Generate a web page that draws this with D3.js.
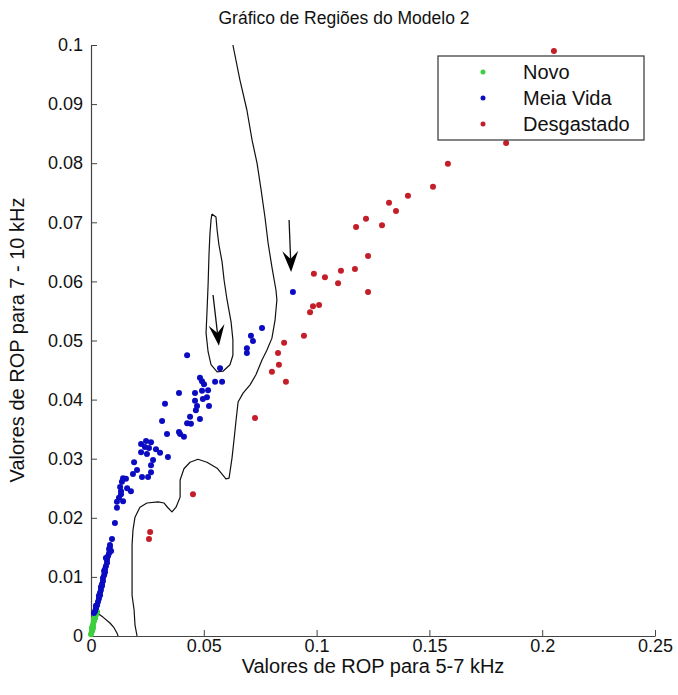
<!DOCTYPE html>
<html>
<head>
<meta charset="utf-8">
<script src="https://cdn.jsdelivr.net/npm/d3@7"></script>
<style>
  body { margin: 0; background: #fff; }
  svg { display: block; font-family: "Liberation Sans", Arial, sans-serif; }
</style>
</head>
<body>
<svg id="chart" width="678" height="695"></svg>
<script>
// Axis ticks
const xTicks = [0, 0.05, 0.1, 0.15, 0.2, 0.25];
const xTickLabels = ["0", "0.05", "0.1", "0.15", "0.2", "0.25"];
const yTicks = [0, 0.01, 0.02, 0.03, 0.04, 0.05, 0.06, 0.07, 0.08, 0.09, 0.1];
const yTickLabels = ["0", "0.01", "0.02", "0.03", "0.04", "0.05", "0.06", "0.07", "0.08", "0.09", "0.1"];

// Classes
const classNames = ["Novo", "Meia Vida", "Desgastado"];
const classColors = ["#3ecf3e", "#0b0bc2", "#c41e2a"];

// Novo (new tool)
const novoX = [0.0027, 0.0022, 0.0018, 0.0018, 0.0013, 0.0013, 0.0009, 0.0009, 0.0004, 0.0004, 0.0000, 0.0024, 0.0006];
const novoY = [0.0041, 0.0036, 0.0037, 0.0030, 0.0029, 0.0025, 0.0019, 0.0014, 0.0014, 0.0008, 0.0003, 0.0039, 0.0011];

// Meia Vida (half life)
const meiaX = [
  0.0895, 0.0758, 0.0709, 0.0718, 0.0691, 0.0691, 0.0426, 0.0572, 0.0550, 0.0581,
  0.0483, 0.0492, 0.0501, 0.0519, 0.0390, 0.0461, 0.0492, 0.0514, 0.0496, 0.0461,
  0.0470, 0.0523, 0.0465, 0.0328, 0.0439, 0.0483, 0.0315, 0.0426, 0.0443, 0.0390,
  0.0395, 0.0337, 0.0412, 0.0244, 0.0266, 0.0222, 0.0239, 0.0257, 0.0288, 0.0222,
  0.0248, 0.0306, 0.0341, 0.0275, 0.0191, 0.0266, 0.0204, 0.0186, 0.0266, 0.0142,
  0.0155, 0.0226, 0.0253, 0.0137, 0.0160, 0.0129, 0.0133, 0.0177, 0.0133, 0.0124,
  0.0142, 0.0115, 0.0115, 0.0106, 0.0093, 0.0084, 0.0080, 0.0089, 0.0084,
  0.0075, 0.0071, 0.0071, 0.0066, 0.0062, 0.0062, 0.0058, 0.0053, 0.0053, 0.0049,
  0.0044, 0.0044, 0.0040, 0.0035, 0.0035, 0.0031, 0.0027, 0.0022, 0.0018, 0.0013,
  0.0066, 0.0058, 0.0049, 0.0040, 0.0022, 0.0080
];
const meiaY = [
  0.0582, 0.0521, 0.0508, 0.0499, 0.0487, 0.0479, 0.0475, 0.0453, 0.0430, 0.0430,
  0.0437, 0.0431, 0.0426, 0.0416, 0.0411, 0.0411, 0.0415, 0.0404, 0.0401, 0.0398,
  0.0389, 0.0389, 0.0382, 0.0393, 0.0371, 0.0367, 0.0364, 0.0360, 0.0359, 0.0345,
  0.0342, 0.0342, 0.0337, 0.0330, 0.0328, 0.0325, 0.0320, 0.0318, 0.0316, 0.0311,
  0.0308, 0.0310, 0.0303, 0.0298, 0.0294, 0.0289, 0.0281, 0.0274, 0.0277, 0.0267,
  0.0266, 0.0269, 0.0269, 0.0261, 0.0250, 0.0252, 0.0245, 0.0245, 0.0240, 0.0234,
  0.0228, 0.0227, 0.0217, 0.0191, 0.0164, 0.0151, 0.0147, 0.0144, 0.0154,
  0.0135, 0.0129, 0.0124, 0.0118, 0.0113, 0.0108, 0.0103, 0.0098, 0.0093, 0.0088,
  0.0083, 0.0078, 0.0073, 0.0068, 0.0063, 0.0058, 0.0052, 0.0047, 0.0042, 0.0039,
  0.0132, 0.0110, 0.0085, 0.0069, 0.0051, 0.0140
];

// Desgastado (worn)
const desgX = [
  0.2052, 0.1840, 0.1582, 0.1516, 0.1405, 0.1321, 0.1352, 0.1219, 0.1175, 0.1290,
  0.1228, 0.1170, 0.1108, 0.1095, 0.1037, 0.0988, 0.1228, 0.1011, 0.0984, 0.0971,
  0.0944, 0.0856, 0.0829, 0.0833, 0.0802, 0.0864, 0.0727, 0.0452, 0.0262, 0.0257
];
const desgY = [
  0.0990, 0.0834, 0.0799, 0.0760, 0.0745, 0.0733, 0.0719, 0.0706, 0.0692, 0.0695,
  0.0643, 0.0621, 0.0618, 0.0597, 0.0607, 0.0613, 0.0582, 0.0560, 0.0558, 0.0548,
  0.0508, 0.0496, 0.0479, 0.0459, 0.0447, 0.0430, 0.0369, 0.0240, 0.0176, 0.0164
];

// Decision boundaries
const arcX = [0.0000, 0.0027, 0.0053, 0.0084, 0.0102, 0.0115, 0.0120];
const arcY = [0.0041, 0.0039, 0.0032, 0.0022, 0.0014, 0.0005, 0.0000];

const frontX = [
  0.0629, 0.0660, 0.0691, 0.0714, 0.0736, 0.0754, 0.0771, 0.0785, 0.0802, 0.0820,
  0.0824, 0.0816, 0.0802, 0.0780, 0.0758, 0.0731, 0.0705, 0.0674, 0.0652, 0.0643,
  0.0634, 0.0625, 0.0612, 0.0598, 0.0559, 0.0514, 0.0474, 0.0439, 0.0412, 0.0395,
  0.0395, 0.0377, 0.0359, 0.0341, 0.0324, 0.0297, 0.0248, 0.0217, 0.0195, 0.0186,
  0.0182, 0.0182, 0.0182, 0.0191, 0.0195, 0.0204
];
const frontY = [
  0.1000, 0.0941, 0.0890, 0.0839, 0.0800, 0.0755, 0.0709, 0.0665, 0.0624, 0.0585,
  0.0569, 0.0535, 0.0504, 0.0484, 0.0467, 0.0442, 0.0425, 0.0411, 0.0396, 0.0365,
  0.0332, 0.0301, 0.0267, 0.0266, 0.0284, 0.0294, 0.0299, 0.0294, 0.0283, 0.0264,
  0.0235, 0.0218, 0.0210, 0.0217, 0.0225, 0.0227, 0.0225, 0.0218, 0.0201, 0.0179,
  0.0154, 0.0103, 0.0069, 0.0044, 0.0019, 0.0000
];

const loopX = [
  0.0536, 0.0554, 0.0559, 0.0567, 0.0581, 0.0590, 0.0603, 0.0621, 0.0629, 0.0629,
  0.0616, 0.0585, 0.0559, 0.0532, 0.0519, 0.0510, 0.0514, 0.0519, 0.0523, 0.0527,
  0.0532, 0.0536
];
const loopY = [
  0.0714, 0.0709, 0.0687, 0.0662, 0.0633, 0.0602, 0.0569, 0.0531, 0.0501, 0.0475,
  0.0459, 0.0448, 0.0447, 0.0459, 0.0481, 0.0513, 0.0547, 0.0594, 0.0645, 0.0679,
  0.0704, 0.0714
];

// Annotation arrows: [x start, y start, x tip, y tip]
const arrowA = [0.0541, 0.0577, 0.0567, 0.0491];
const arrowB = [0.0878, 0.0704, 0.0887, 0.0616];

const svg = d3.select("#chart");
svg.append("rect").attr("width", 678).attr("height", 695).attr("fill", "#fff");

const x = d3.scaleLinear().domain([0, 0.25]).range([91, 655]);
const y = d3.scaleLinear().domain([0, 0.1]).range([636, 45]);

// Axes
const xAxis = d3.axisBottom(x).tickValues(xTicks)
  .tickFormat((d, i) => xTickLabels[i]).tickSizeInner(-6).tickSizeOuter(0).tickPadding(3);
const yAxis = d3.axisLeft(y).tickValues(yTicks)
  .tickFormat((d, i) => yTickLabels[i]).tickSizeInner(-6).tickSizeOuter(0).tickPadding(8);

const gx = svg.append("g").attr("transform", "translate(0,636)").call(xAxis);
const gy = svg.append("g").attr("transform", "translate(91,0)").call(yAxis);
[gx, gy].forEach(g => {
  g.select(".domain").attr("stroke", "#444").attr("stroke-width", 1.2);
  g.selectAll(".tick line").attr("stroke", "#444");
  g.selectAll(".tick text").attr("fill", "#111").attr("font-size", 18)
    .attr("font-family", "'Liberation Sans', Arial, sans-serif");
});
gx.selectAll(".tick text").attr("dy", "0.71em");

// Boundary curves
const line = d3.line().x(d => x(d[0])).y(d => y(d[1]));
const zipXY = (xs, ys) => xs.map((v, i) => [v, ys[i]]);
[zipXY(arcX, arcY), zipXY(frontX, frontY), zipXY(loopX, loopY)].forEach(pts => {
  svg.append("path").attr("d", line(pts)).attr("fill", "none")
    .attr("stroke", "#111").attr("stroke-width", 1.2).attr("stroke-linejoin", "round");
});

// Scatter points
const series = [
  { xs: novoX, ys: novoY, color: classColors[0] },
  { xs: meiaX, ys: meiaY, color: classColors[1] },
  { xs: desgX, ys: desgY, color: classColors[2] }
];
series.forEach(s => {
  svg.append("g").selectAll("circle").data(zipXY(s.xs, s.ys)).join("circle")
    .attr("cx", d => x(d[0])).attr("cy", d => y(d[1])).attr("r", 3)
    .attr("fill", s.color);
});

// Arrows
function drawArrow(a) {
  const x0 = x(a[0]), y0 = y(a[1]), x1 = x(a[2]), y1 = y(a[3]);
  const dx = x1 - x0, dy = y1 - y0, len = Math.hypot(dx, dy);
  const ux = dx / len, uy = dy / len, px = -uy, py = ux;
  const headLen = 21, headHalf = 8, notch = 13;
  const bx = x1 - ux * headLen, by = y1 - uy * headLen;
  const nx = x1 - ux * notch, ny = y1 - uy * notch;
  svg.append("line").attr("x1", x0).attr("y1", y0).attr("x2", nx).attr("y2", ny)
    .attr("stroke", "#111").attr("stroke-width", 1.3);
  svg.append("path")
    .attr("d", `M${x1},${y1}L${bx + px * headHalf},${by + py * headHalf}L${nx},${ny}L${bx - px * headHalf},${by - py * headHalf}Z`)
    .attr("fill", "#000");
}
drawArrow(arrowA);
drawArrow(arrowB);

// Title and axis labels
svg.append("text").attr("x", 344).attr("y", 24).attr("text-anchor", "middle")
  .attr("font-size", 17.5).attr("fill", "#111").text("Gráfico de Regiões do Modelo 2");
svg.append("text").attr("x", 373).attr("y", 673).attr("text-anchor", "middle")
  .attr("font-size", 20).attr("fill", "#111").text("Valores de ROP para 5-7 kHz");
svg.append("text").attr("transform", "translate(24,340) rotate(-90)").attr("text-anchor", "middle")
  .attr("font-size", 20).attr("fill", "#111").text("Valores de ROP para 7 - 10 kHz");

// Legend
const lg = svg.append("g");
lg.append("rect").attr("x", 438).attr("y", 56).attr("width", 206).attr("height", 84)
  .attr("fill", "#fff").attr("stroke", "#333").attr("stroke-width", 1.2);
classNames.forEach((name, i) => {
  const cy = 72 + i * 26;
  lg.append("circle").attr("cx", 483).attr("cy", cy).attr("r", 2.5).attr("fill", classColors[i]);
  lg.append("text").attr("x", 523).attr("y", cy).attr("dy", "0.35em")
    .attr("font-size", 20).attr("fill", "#111").text(name);
});
</script>
</body>
</html>
